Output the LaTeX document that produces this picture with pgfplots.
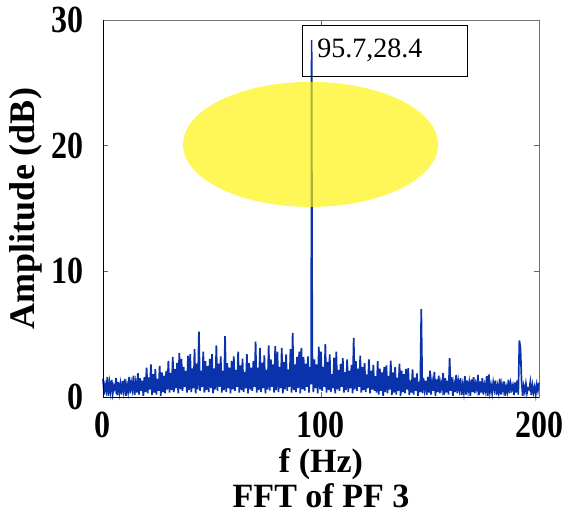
\documentclass[border=0pt]{standalone}
\usepackage{pgfplots}
\pgfplotsset{compat=1.18}
\usepackage{fontspec}
\setmainfont{Liberation Serif}
\definecolor{fftblue}{RGB}{10,50,170}
\begin{document}
\begin{tikzpicture}
\begin{axis}[
  scale only axis,
  width=436pt, height=377pt,
  xmin=0, xmax=200, ymin=0, ymax=30,
  xtick={0,100,200}, ytick={0,10,20,30},
  tick align=inside,
  major tick length=5pt,
  tick style={black!60, line width=0.6pt},
  axis line style={black!55, line width=0.8pt},
  /pgf/number format/assume math mode=true,
  ticklabel style={font=\fontsize{32}{36}\selectfont\bfseries, yscale=1.2},
  xticklabel style={yshift=-9pt},
  yticklabel style={xshift=-16pt},
  xlabel={f (Hz)\\[1pt]FFT of PF 3},
  xlabel style={font=\fontsize{34}{34}\selectfont\bfseries, align=center, at={(axis description cs:0.5,0)}, anchor=north, yshift=-48pt},
  ylabel={Amplitude (dB)},
  ylabel style={font=\fontsize{36}{40}\selectfont\bfseries, at={(axis description cs:0,0.5)}, anchor=center, yshift=77pt},
  clip=false,
]
\addplot[fftblue, line width=1.7pt, no markers] coordinates {
(0,1.44)(0.5,0.2)(1,0.96)(1.5,0.5)(2,1.60)(2.5,0.1)(3,1.12)(3.5,0.4)(4,1.36)(4.5,0.3)
(5,0.88)(5.5,0.6)(6,1.52)(6.5,0.15)(7,1.20)(7.5,0.35)(8,1.04)(8.5,0.2)(9,1.28)(9.5,0.5)
(10,1.44)(10.5,0.1)(11,0.96)(11.5,0.4)(12,1.60)(12.5,0.3)(13,1.12)(13.5,0.6)(14,1.70)(14.5,0.15)
(15,1.10)(15.5,0.35)(16,1.90)(16.5,0.2)(17,1.50)(17.5,0.5)(18,1.30)(18.5,0.1)(19,1.60)(19.5,0.4)
(20,2.34)(20.5,0.3)(21,1.56)(21.5,0.6)(22,2.60)(22.5,0.15)(23,1.82)(23.5,0.35)(24,2.21)(24.5,0.2)
(25,1.43)(25.5,0.5)(26,2.47)(26.5,0.1)(27,1.95)(27.5,0.4)(28,1.69)(28.5,0.3)(29,2.08)(29.5,0.6)
(30,2.88)(30.5,0.35)(31,1.92)(31.5,0.55)(32,3.20)(32.5,0.4)(33,2.24)(33.5,0.7)(34,2.72)(34.5,0.3)
(35,3.50)(35.5,0.6)(36,3.04)(36.5,0.5)(37,2.40)(37.5,0.8)(38,2.08)(38.5,0.35)(39,3.30)(39.5,0.55)
(40,3.42)(40.5,0.4)(41,2.28)(41.5,0.7)(42,3.80)(42.5,0.3)(43,2.66)(43.5,0.6)(44,5.20)(44.5,0.5)
(45,2.09)(45.5,0.8)(46,3.61)(46.5,0.35)(47,2.85)(47.5,0.55)(48,2.47)(48.5,0.4)(49,3.04)(49.5,0.7)
(50,3.42)(50.5,0.3)(51,2.28)(51.5,0.6)(52,4.10)(52.5,0.5)(53,2.66)(53.5,0.8)(54,3.23)(54.5,0.35)
(55,2.09)(55.5,0.55)(56,4.85)(56.5,0.4)(57,2.70)(57.5,0.7)(58,2.34)(58.5,0.3)(59,2.88)(59.5,0.6)
(60,3.24)(60.5,0.5)(61,2.16)(61.5,0.8)(62,3.60)(62.5,0.35)(63,2.52)(63.5,0.55)(64,3.06)(64.5,0.4)
(65,1.98)(65.5,0.7)(66,3.42)(66.5,0.3)(67,2.70)(67.5,0.6)(68,2.34)(68.5,0.5)(69,2.88)(69.5,0.8)
(70,4.40)(70.5,0.35)(71,2.34)(71.5,0.55)(72,3.90)(72.5,0.4)(73,2.73)(73.5,0.7)(74,3.32)(74.5,0.3)
(75,2.15)(75.5,0.6)(76,4.10)(76.5,0.5)(77,3.00)(77.5,0.8)(78,2.60)(78.5,0.35)(79,4.05)(79.5,0.55)
(80,3.60)(80.5,0.4)(81,2.40)(81.5,0.7)(82,3.90)(82.5,0.3)(83,2.80)(83.5,0.6)(84,3.40)(84.5,0.5)
(85,2.20)(85.5,0.8)(86,3.80)(86.5,0.35)(87,5.10)(87.5,0.55)(88,2.60)(88.5,0.4)(89,3.20)(89.5,0.7)
(90,3.60)(90.5,0.3)(91,3.90)(91.5,0.6)(92,3.20)(92.5,0.5)(93,2.66)(93.5,0.8)(94,3.23)(94.5,0.35)
(95,2.40)(95.5,1.0)(95.7,28.4)(96,3.50)(96.5,0.4)(97,3.00)(97.5,0.7)(98,2.60)(98.5,0.3)(99,4.00)(99.5,0.6)
(100,3.60)(100.5,0.5)(101,2.40)(101.5,0.8)(102,4.20)(102.5,0.35)(103,2.80)(103.5,0.55)(104,3.40)(104.5,0.4)
(105,1.82)(105.5,0.7)(106,3.14)(106.5,0.3)(107,3.60)(107.5,0.6)(108,2.15)(108.5,0.5)(109,2.64)(109.5,0.8)
(110,3.10)(110.5,0.35)(111,1.98)(111.5,0.55)(112,3.00)(112.5,0.4)(113,2.10)(113.5,0.7)(114,2.55)(114.5,0.3)
(115,4.70)(115.5,0.6)(116,2.85)(116.5,0.5)(117,2.25)(117.5,0.8)(118,3.30)(118.5,0.35)(119,2.40)(119.5,0.55)
(120,2.70)(120.5,0.4)(121,1.80)(121.5,0.7)(122,3.00)(122.5,0.3)(123,2.10)(123.5,0.6)(124,2.55)(124.5,0.5)
(125,1.65)(125.5,0.35)(126,2.85)(126.5,0.2)(127,2.25)(127.5,0.5)(128,1.95)(128.5,0.1)(129,2.40)(129.5,0.4)
(130,2.52)(130.5,0.3)(131,1.68)(131.5,0.6)(132,2.90)(132.5,0.15)(133,1.96)(133.5,0.35)(134,2.38)(134.5,0.2)
(135,1.54)(135.5,0.5)(136,2.66)(136.5,0.1)(137,2.10)(137.5,0.4)(138,1.82)(138.5,0.3)(139,2.24)(139.5,0.6)
(140,2.30)(140.5,0.15)(141,1.32)(141.5,0.35)(142,2.20)(142.5,0.2)(143,1.54)(143.5,0.5)(144,1.87)(144.5,0.1)
(145,1.21)(145.5,0.4)(146,7.00)(146.5,0.3)(147,1.50)(147.5,0.6)(148,1.30)(148.5,0.15)(149,1.60)(149.5,0.35)
(150,2.10)(150.5,0.2)(151,1.20)(151.5,0.5)(152,2.00)(152.5,0.1)(153,1.40)(153.5,0.4)(154,1.70)(154.5,0.3)
(155,1.10)(155.5,0.6)(156,1.90)(156.5,0.15)(157,1.50)(157.5,0.35)(158,1.30)(158.5,0.2)(159,3.10)(159.5,0.5)
(160,1.58)(160.5,0.1)(161,1.05)(161.5,0.4)(162,1.75)(162.5,0.3)(163,1.23)(163.5,0.6)(164,1.49)(164.5,0.15)
(165,0.96)(165.5,0.35)(166,1.66)(166.5,0.2)(167,1.31)(167.5,0.5)(168,1.14)(168.5,0.1)(169,1.40)(169.5,0.4)
(170,1.58)(170.5,0.3)(171,1.05)(171.5,0.6)(172,1.75)(172.5,0.15)(173,1.23)(173.5,0.35)(174,1.49)(174.5,0.2)
(175,0.96)(175.5,0.5)(176,1.66)(176.5,0.1)(177,1.80)(177.5,0.4)(178,0.94)(178.5,0.3)(179,1.16)(179.5,0.6)
(180,1.31)(180.5,0.15)(181,0.87)(181.5,0.35)(182,1.45)(182.5,0.2)(183,1.02)(183.5,0.5)(184,1.23)(184.5,0.1)
(185,0.80)(185.5,0.4)(186,1.38)(186.5,0.3)(187,1.09)(187.5,0.6)(188,0.94)(188.5,0.15)(189,1.16)(189.5,0.35)
(190,1.31)(190.5,0.2)(191,4.50)(191.5,3.90)(192,1.30)(192.5,0.1)(193,0.88)(193.5,0.4)(194,1.06)(194.5,0.3)
(195,0.69)(195.5,0.6)(196,1.19)(196.5,0.15)(197,0.94)(197.5,0.35)(198,0.81)(198.5,0.2)(199,1.00)(199.5,0.5)
(200,1.13)
};
\fill[yellow, opacity=0.66] (axis cs:95.2,20.1) ellipse [x radius=127.5pt, y radius=62.5pt];
\draw[black, line width=0.9pt] (axis cs:91.7,25.5) rectangle (axis cs:167,29.6);
\node[anchor=west, inner sep=0pt, font=\fontsize{28}{30}\selectfont] at (axis cs:98.2,27.6) {95.7,28.4};
\draw[black, line width=0.9pt] (rel axis cs:0,0) -- (rel axis cs:0,1);
\draw[black, line width=0.9pt] (rel axis cs:0,0) -- (rel axis cs:1,0);
\end{axis}
\pgfresetboundingbox
\useasboundingbox (-103pt,-118pt) rectangle (465pt,397pt);
\end{tikzpicture}
\end{document}
